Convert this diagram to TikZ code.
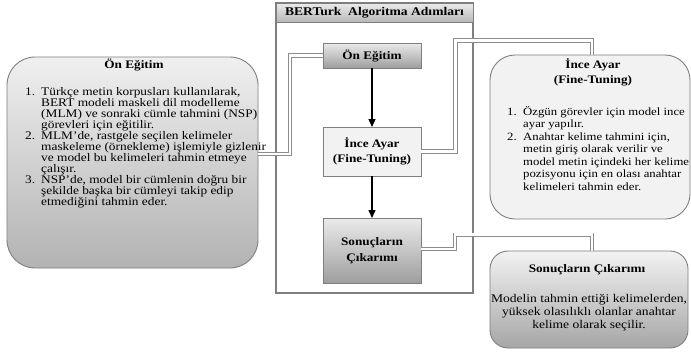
\documentclass[tikz,border=0pt]{standalone}
\usepackage{fontspec}
\setmainfont{Liberation Serif}[FakeStretch=1.15]
\usetikzlibrary{arrows.meta}

\definecolor{edgegray}{HTML}{7F7F7F}
\definecolor{linegray}{HTML}{8C8C8C}

\tikzset{
  frame/.style={draw=edgegray, line width=1.4pt, inner sep=0pt, outer sep=0pt},
  stepbox/.style={draw=edgegray, line width=0.9pt, inner sep=0pt, outer sep=0pt,
    minimum width=98pt, font=\bfseries\fontsize{11.5}{15}\selectfont, align=center},
  shadebox/.style={draw=edgegray, line width=0.9pt, inner sep=0pt, outer sep=0pt},
  flatbox/.style={draw=edgegray, line width=0.9pt, inner sep=0pt, outer sep=0pt,
    fill=black!5},
  conn/.style={draw=linegray, line width=0.9pt, double=white, double distance=2.6pt},
  flow/.style={draw=black, line width=1.3pt, -{Triangle[length=8pt,width=7pt]}},
  heading/.style={inner sep=0pt, font=\bfseries\fontsize{11.5}{15}\selectfont, align=center},
  body/.style={inner sep=0pt, align=left, anchor=north west},
}

\newcommand\numitem[1]{\makebox[16pt][l]{#1}}
\newcommand\contline{\hspace*{16pt}}

\begin{document}
\begin{tikzpicture}[x=1pt, y=-1pt]
\useasboundingbox[fill=white] (0,0) rectangle (691,354);

% container of the algorithm steps
\node[frame, minimum width=197pt, minimum height=290pt] (cont) at (374.5,148) {};
\node[frame, line width=1pt, top color=black!8, bottom color=black!28,
      minimum width=197pt, minimum height=19pt,
      font=\bfseries\fontsize{11.8}{13}\selectfont] (title) at (374.5,12.5)
      {BERTurk\ \ Algoritma Adımları};

% the three steps
\node[stepbox, top color=black!8, bottom color=black!38, minimum height=25pt]
  (on) at (372,55.5) {Ön Eğitim};
\node[stepbox, fill=black!5, minimum height=49pt]
  (ince) at (372,151.5) {İnce Ayar\\(Fine-Tuning)};
\node[stepbox, top color=black!8, bottom color=black!38, minimum height=65pt,
      font=\bfseries\fontsize{11.5}{16}\selectfont]
  (son) at (372,250.5) {Sonuçların\\Çıkarımı};

\draw[flow] (on.south) -- (ince.north);
\draw[flow] (ince.south) -- (son.north);

% detail boxes
\node[shadebox, rounded corners=28pt, top color=black!6, bottom color=black!30,
      minimum width=251pt, minimum height=211pt] (left) at (132.5,162.5) {};
\node[flatbox, rounded corners=25pt, minimum width=200pt, minimum height=164pt]
  (rince) at (590,137) {};
\node[shadebox, rounded corners=18pt, top color=black!5, bottom color=black!35,
      minimum width=198pt, minimum height=97pt] (rson) at (589,299.5) {};

% connectors
\coordinate (k1) at (592,40.5);
\coordinate (k2) at (592,234.7);
\draw[conn] ([yshift=8.5pt]left.east) -- ++(32,0) |- (on.west);
\draw[conn] (ince.east) -- ++(34.5,0) |- (k1) -- (k1 |- rince.north);
\draw[conn] ([yshift=1.5pt]son.east) -- ++(34,0) |- (k2) -- (k2 |- rson.north);

% texts of the left box
\node[heading] (lt) at (134,65) {Ön Eğitim};
\node[body, font=\fontsize{11.6}{11}\selectfont] (lb) at (25,87.5) {%
\numitem{1.}Türkçe metin korpusları kullanılarak,\\
\contline BERT modeli maskeli dil modelleme\\
\contline (MLM) ve sonraki cümle tahmini (NSP)\\
\contline görevleri için eğitilir.\\
\numitem{2.}MLM'de, rastgele seçilen kelimeler\\
\contline maskeleme (örnekleme) işlemiyle gizlenir\\
\contline ve model bu kelimeleri tahmin etmeye\\
\contline çalışır.\\
\numitem{3.}NSP'de, model bir cümlenin doğru bir\\
\contline şekilde başka bir cümleyi takip edip\\
\contline etmediğini tahmin eder.};

% texts of the fine-tuning box
\node[heading] (rit) at (593,72.5) {İnce Ayar\\(Fine-Tuning)};
\node[body, font=\fontsize{11.1}{12.5}\selectfont] (rib) at (507,106) {%
\numitem{1.}Özgün görevler için model ince\\
\contline ayar yapılır.\\
\numitem{2.}Anahtar kelime tahmini için,\\
\contline metin giriş olarak verilir ve\\
\contline model metin içindeki her kelime\\
\contline pozisyonu için en olası anahtar\\
\contline kelimeleri tahmin eder.};

% texts of the result box
\node[heading] (rst) at (587,270) {Sonuçların Çıkarımı};
\node[inner sep=0pt, align=center, anchor=north, font=\fontsize{11.8}{13}\selectfont]
  (rsb) at (589,294.5) {%
Modelin tahmin ettiği kelimelerden,\\
yüksek olasılıklı olanlar anahtar\\
kelime olarak seçilir.};
\end{tikzpicture}
\end{document}
